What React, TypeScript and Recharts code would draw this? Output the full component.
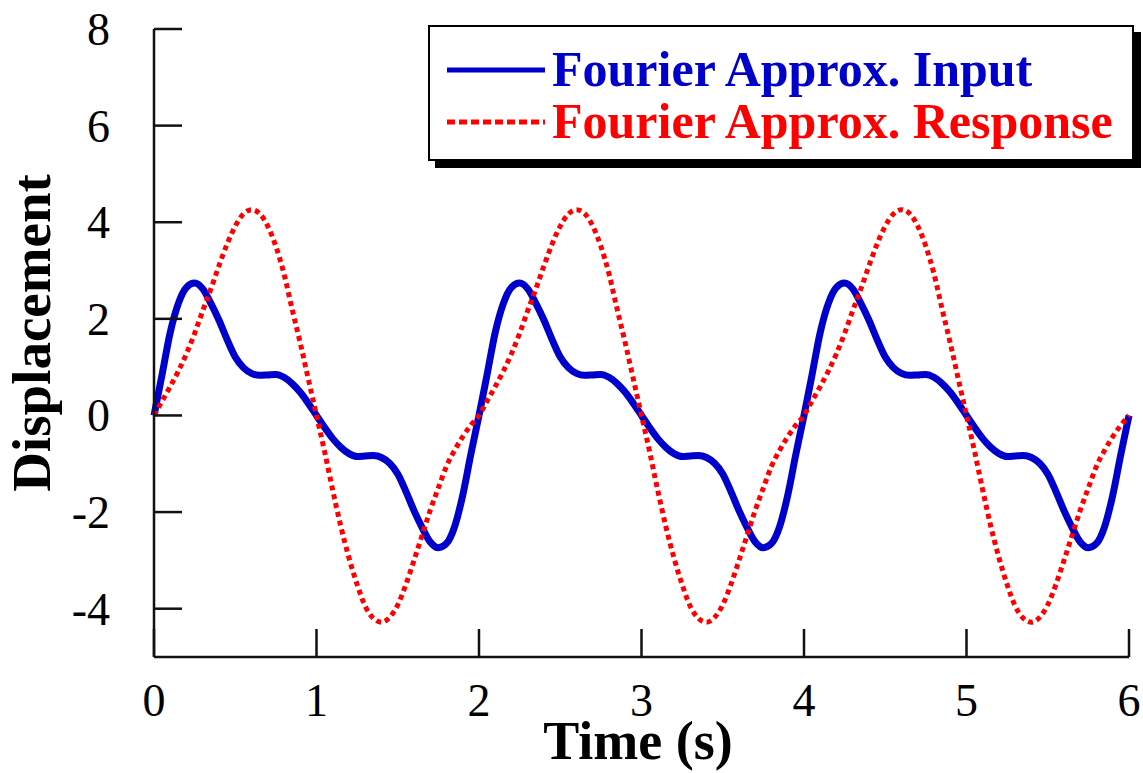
// @ts-nocheck
import React from 'react';
import { LineChart, Line, XAxis, YAxis, Legend } from 'recharts';

const timeValues = [
  0, 0.05, 0.1, 0.15, 0.2, 0.25, 0.3, 0.35, 0.4, 0.45, 0.5, 0.55, 0.6, 0.65, 0.7, 0.75, 0.8, 0.85, 0.9, 0.95,
  1, 1.05, 1.1, 1.15, 1.2, 1.25, 1.3, 1.35, 1.4, 1.45, 1.5, 1.55, 1.6, 1.65, 1.7, 1.75, 1.8, 1.85, 1.9, 1.95,
  2, 2.05, 2.1, 2.15, 2.2, 2.25, 2.3, 2.35, 2.4, 2.45, 2.5, 2.55, 2.6, 2.65, 2.7, 2.75, 2.8, 2.85, 2.9, 2.95,
  3, 3.05, 3.1, 3.15, 3.2, 3.25, 3.3, 3.35, 3.4, 3.45, 3.5, 3.55, 3.6, 3.65, 3.7, 3.75, 3.8, 3.85, 3.9, 3.95,
  4, 4.05, 4.1, 4.15, 4.2, 4.25, 4.3, 4.35, 4.4, 4.45, 4.5, 4.55, 4.6, 4.65, 4.7, 4.75, 4.8, 4.85, 4.9, 4.95,
  5, 5.05, 5.1, 5.15, 5.2, 5.25, 5.3, 5.35, 5.4, 5.45, 5.5, 5.55, 5.6, 5.65, 5.7, 5.75, 5.8, 5.85, 5.9, 5.95,
  6,
];

// blue solid curve
const inputValues = [
  0, 0.85, 1.72, 2.32, 2.65, 2.74, 2.62, 2.32, 1.97, 1.57, 1.21, 0.99, 0.87, 0.83, 0.84, 0.85, 0.79, 0.66, 0.48, 0.25,
  0, -0.25, -0.48, -0.66, -0.79, -0.85, -0.84, -0.83, -0.87, -0.99, -1.21, -1.57, -1.97, -2.32, -2.62, -2.74, -2.65, -2.3, -1.65, -0.8,
  0, 0.85, 1.72, 2.32, 2.65, 2.74, 2.62, 2.32, 1.97, 1.57, 1.21, 0.99, 0.87, 0.83, 0.84, 0.85, 0.79, 0.66, 0.48, 0.25,
  0, -0.25, -0.48, -0.66, -0.79, -0.85, -0.84, -0.83, -0.87, -0.99, -1.21, -1.57, -1.97, -2.32, -2.62, -2.74, -2.65, -2.3, -1.65, -0.8,
  0, 0.85, 1.72, 2.32, 2.65, 2.74, 2.62, 2.32, 1.97, 1.57, 1.21, 0.99, 0.87, 0.83, 0.84, 0.85, 0.79, 0.66, 0.48, 0.25,
  0, -0.25, -0.48, -0.66, -0.79, -0.85, -0.84, -0.83, -0.87, -0.99, -1.21, -1.57, -1.97, -2.32, -2.62, -2.74, -2.65, -2.3, -1.65, -0.8,
  0,
];

// red dotted curve
const responseValues = [
  0, 0.3, 0.6, 0.92, 1.28, 1.7, 2.17, 2.62, 3.1, 3.55, 3.92, 4.17, 4.26, 4.18, 3.92, 3.5, 2.93, 2.2, 1.5, 0.75,
  0, -0.75, -1.55, -2.3, -2.95, -3.5, -3.95, -4.2, -4.28, -4.18, -3.92, -3.5, -3.0, -2.48, -1.96, -1.5, -1.05, -0.72, -0.44, -0.2,
  0, 0.3, 0.6, 0.92, 1.28, 1.7, 2.17, 2.62, 3.1, 3.55, 3.92, 4.17, 4.26, 4.18, 3.92, 3.5, 2.93, 2.2, 1.5, 0.75,
  0, -0.75, -1.55, -2.3, -2.95, -3.5, -3.95, -4.2, -4.28, -4.18, -3.92, -3.5, -3.0, -2.48, -1.96, -1.5, -1.05, -0.72, -0.44, -0.2,
  0, 0.3, 0.6, 0.92, 1.28, 1.7, 2.17, 2.62, 3.1, 3.55, 3.92, 4.17, 4.26, 4.18, 3.92, 3.5, 2.93, 2.2, 1.5, 0.75,
  0, -0.75, -1.55, -2.3, -2.95, -3.5, -3.95, -4.2, -4.28, -4.18, -3.92, -3.5, -3.0, -2.48, -1.96, -1.5, -1.05, -0.72, -0.44, -0.2,
  0,
];

const timeTicks = [0, 1, 2, 3, 4, 5, 6];
const displacementTicks = [-4, -2, 0, 2, 4, 6, 8];
const seriesNames = ['Fourier Approx. Input', 'Fourier Approx. Response'];

const data = timeValues.map((t, i) => ({ t, input: inputValues[i], response: responseValues[i] }));

const FONT = "'Liberation Serif', 'Times New Roman', serif";
const BLUE = '#0000cc';
const RED = '#ff0000';
const AXIS = '#111';

const YTick = ({ x, y, payload }) => (
  <g>
    <line x1={x} x2={x + 28} y1={y} y2={y} stroke={AXIS} strokeWidth={2.5} />
    <text x={x - 44} y={y + 16} textAnchor="end" fontFamily={FONT} fontSize={46} fill="#000">
      {payload.value}
    </text>
  </g>
);

const XTick = ({ x, y, payload }) => (
  <g>
    <line x1={x} x2={x} y1={y} y2={y - 28} stroke={AXIS} strokeWidth={2.5} />
    <text x={x} y={y + 59} textAnchor="middle" fontFamily={FONT} fontSize={46} fill="#000">
      {payload.value}
    </text>
  </g>
);

const LegendBox = () => (
  <div
    style={{
      width: 706,
      height: 136,
      boxSizing: 'border-box',
      border: '2.5px solid #000',
      background: '#fff',
      boxShadow: '7px 7px 0 #000',
    }}
  >
    <svg width={701} height={131} style={{ display: 'block' }}>
      <line x1={17} x2={115} y1={43} y2={43} stroke={BLUE} strokeWidth={5} />
      <text x={122} y={59} fontFamily={FONT} fontWeight="bold" fontSize={50} fill={BLUE}>
        {seriesNames[0]}
      </text>
      <line x1={17} x2={115} y1={95} y2={95} stroke={RED} strokeWidth={5} strokeDasharray="8 4" />
      <text x={122} y={111} fontFamily={FONT} fontWeight="bold" fontSize={50} fill={RED}>
        {seriesNames[1]}
      </text>
    </svg>
  </div>
);

export default function App() {
  return (
    <div style={{ position: 'absolute', left: 0, top: 0, width: 1143, height: 773, background: '#fff' }}>
      <LineChart width={1143} height={773} data={data} margin={{ top: 29, right: 14, bottom: 56, left: 94 }}>
        <XAxis
          dataKey="t"
          type="number"
          domain={[0, 6]}
          ticks={timeTicks}
          interval={0}
          height={60}
          tickSize={0}
          tickMargin={0}
          tickLine={false}
          axisLine={{ stroke: AXIS, strokeWidth: 2.5 }}
          tick={<XTick />}
          label={{
            content: () => (
              <text x={638} y={759} textAnchor="middle" fontFamily={FONT} fontWeight="bold" fontSize={54} fill="#000">
                Time (s)
              </text>
            ),
          }}
        />
        <YAxis
          type="number"
          domain={[-5, 8]}
          ticks={displacementTicks}
          interval={0}
          width={60}
          tickSize={0}
          tickMargin={0}
          tickLine={false}
          axisLine={{ stroke: AXIS, strokeWidth: 2.5 }}
          tick={<YTick />}
          label={{
            content: () => (
              <text
                transform="translate(50,333) rotate(-90)"
                textAnchor="middle"
                fontFamily={FONT}
                fontWeight="bold"
                fontSize={55}
                fill="#000"
              >
                Displacement
              </text>
            ),
          }}
        />
        <Legend
          layout="vertical"
          align="center"
          verticalAlign="middle"
          wrapperStyle={{ left: 428, top: 25, width: 706, height: 136 }}
          content={() => <LegendBox />}
        />
        <Line
          name={seriesNames[0]}
          dataKey="input"
          type="monotone"
          stroke={BLUE}
          strokeWidth={7}
          dot={false}
          activeDot={false}
          isAnimationActive={false}
        />
        <Line
          name={seriesNames[1]}
          dataKey="response"
          type="monotone"
          stroke={RED}
          strokeWidth={5}
          strokeDasharray="5 4"
          dot={false}
          activeDot={false}
          isAnimationActive={false}
        />
      </LineChart>
    </div>
  );
}
